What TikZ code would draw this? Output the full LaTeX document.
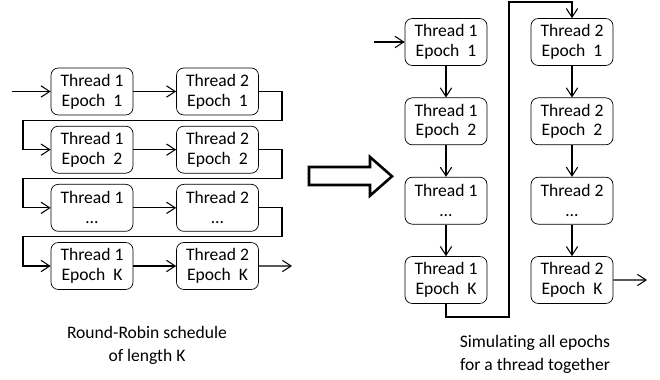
\documentclass[tikz,border=0pt]{standalone}
\usepackage{fontspec}
\setmainfont{Carlito}[Ligatures=NoCommon]
\usepackage{tikz}
\usetikzlibrary{arrows.meta, positioning, calc}
\tikzstyle{thread} = [rectangle, rounded corners=0.22cm, minimum width=2.46cm, minimum height=1.41cm, text centered, align=center, draw=black, line width=0.6pt, inner sep=0pt, font=\fontsize{15}{17}\selectfont]
\tikzstyle{arrow} = [line width=0.9pt, ->, >={Straight Barb[length=2.6mm, width=3.4mm, line width=0.9pt]}]
\tikzstyle{caption} = [align=center, font=\fontsize{15}{19.5}\selectfont]

\begin{document}
\begin{tikzpicture}
    \useasboundingbox (0,0) rectangle (19.8,11.37);

    % round-robin schedule, one row per epoch
    \node (rr_t1_e1) [thread] at (2.76,8.625) {Thread 1\\Epoch\ \ 1};
    \node (rr_t2_e1) [thread, right of=rr_t1_e1, node distance=3.765cm] {Thread 2\\Epoch\ \ 1};
    \node (rr_t1_e2) [thread, below of=rr_t1_e1, node distance=1.745cm] {Thread 1\\Epoch\ \ 2};
    \node (rr_t2_e2) [thread, right of=rr_t1_e2, node distance=3.765cm] {Thread 2\\Epoch\ \ 2};
    \node (rr_t1_en) [thread, below of=rr_t1_e2, node distance=1.745cm] {Thread 1\\\ldots};
    \node (rr_t2_en) [thread, right of=rr_t1_en, node distance=3.765cm] {Thread 2\\\ldots};
    \node (rr_t1_ek) [thread, below of=rr_t1_en, node distance=1.745cm] {Thread 1\\Epoch\ \ K};
    \node (rr_t2_ek) [thread, right of=rr_t1_ek, node distance=3.765cm] {Thread 2\\Epoch\ \ K};

    \coordinate (rr_in) at (0.36,8.625);
    \coordinate (rr_out) at (8.76,3.39);
    \coordinate (rr_right) at (8.46,0);
    \coordinate (rr_left) at (0.69,0);
    % levels of the gaps between the rows
    \coordinate (rr_gap1) at ($(rr_t1_e1.south)!0.5!(rr_t1_e2.north)$);
    \coordinate (rr_gap2) at ($(rr_t1_e2.south)!0.5!(rr_t1_en.north)$);
    \coordinate (rr_gap3) at ($(rr_t1_en.south)!0.5!(rr_t1_ek.north)$);

    \draw[arrow] (rr_in) -- (rr_t1_e1);
    \draw[arrow] (rr_t1_e1) -- (rr_t2_e1);
    \draw[arrow] (rr_t1_e2) -- (rr_t2_e2);
    \draw[arrow] (rr_t1_en) -- (rr_t2_en);
    \draw[arrow] (rr_t1_ek) -- (rr_t2_ek);
    \draw[arrow] (rr_t2_ek) -- (rr_out);

    % wrap-around to the next epoch
    \draw[arrow] (rr_t2_e1.east) -- (rr_t2_e1.east -| rr_right) -- (rr_gap1 -| rr_right) -- (rr_gap1 -| rr_left) -- (rr_t1_e2.west -| rr_left) -- (rr_t1_e2.west);
    \draw[arrow] (rr_t2_e2.east) -- (rr_t2_e2.east -| rr_right) -- (rr_gap2 -| rr_right) -- (rr_gap2 -| rr_left) -- (rr_t1_en.west -| rr_left) -- (rr_t1_en.west);
    \draw[arrow] (rr_t2_en.east) -- (rr_t2_en.east -| rr_right) -- (rr_gap3 -| rr_right) -- (rr_gap3 -| rr_left) -- (rr_t1_ek.west -| rr_left) -- (rr_t1_ek.west);

    \node (rr_caption) [caption] at (4.41,1.0) {Round-Robin schedule\\of length K};

    % big hollow arrow in between
    \draw[line width=2.2pt, miter limit=10] (9.27,6.36) -- (11.1,6.36) -- (11.1,6.66) -- (11.76,6.08) -- (11.1,5.5) -- (11.1,5.82) -- (9.27,5.82) -- cycle;

    % all epochs of a thread in one column
    \node (th_t1_e1) [thread] at (13.38,10.11) {Thread 1\\Epoch\ \ 1};
    \node (th_t1_e2) [thread, below of=th_t1_e1, node distance=2.38cm] {Thread 1\\Epoch\ \ 2};
    \node (th_t1_en) [thread, below of=th_t1_e2, node distance=2.38cm] {Thread 1\\\ldots};
    \node (th_t1_ek) [thread, below of=th_t1_en, node distance=2.38cm] {Thread 1\\Epoch\ \ K};
    \node (th_t2_e1) [thread, right of=th_t1_e1, node distance=3.78cm] {Thread 2\\Epoch\ \ 1};
    \node (th_t2_e2) [thread, below of=th_t2_e1, node distance=2.38cm] {Thread 2\\Epoch\ \ 2};
    \node (th_t2_en) [thread, below of=th_t2_e2, node distance=2.38cm] {Thread 2\\\ldots};
    \node (th_t2_ek) [thread, below of=th_t2_en, node distance=2.38cm] {Thread 2\\Epoch\ \ K};

    \coordinate (th_in) at (11.22,10.11);
    \coordinate (th_out) at (19.41,2.97);
    \coordinate (th_low) at (15.27,1.86);
    \coordinate (th_top) at (15.27,11.31);

    \draw[arrow] (th_in) -- (th_t1_e1);
    \draw[arrow] (th_t1_e1) -- (th_t1_e2);
    \draw[arrow] (th_t1_e2) -- (th_t1_en);
    \draw[arrow] (th_t1_en) -- (th_t1_ek);
    \draw[arrow] (th_t1_ek.south) |- (th_low) -- (th_top) -| (th_t2_e1.north);
    \draw[arrow] (th_t2_e1) -- (th_t2_e2);
    \draw[arrow] (th_t2_e2) -- (th_t2_en);
    \draw[arrow] (th_t2_en) -- (th_t2_ek);
    \draw[arrow] (th_t2_ek) -- (th_out);

    \node (th_caption) [caption] at (16.05,0.75) {Simulating all epochs\\for a thread together};

\end{tikzpicture}
\end{document}
